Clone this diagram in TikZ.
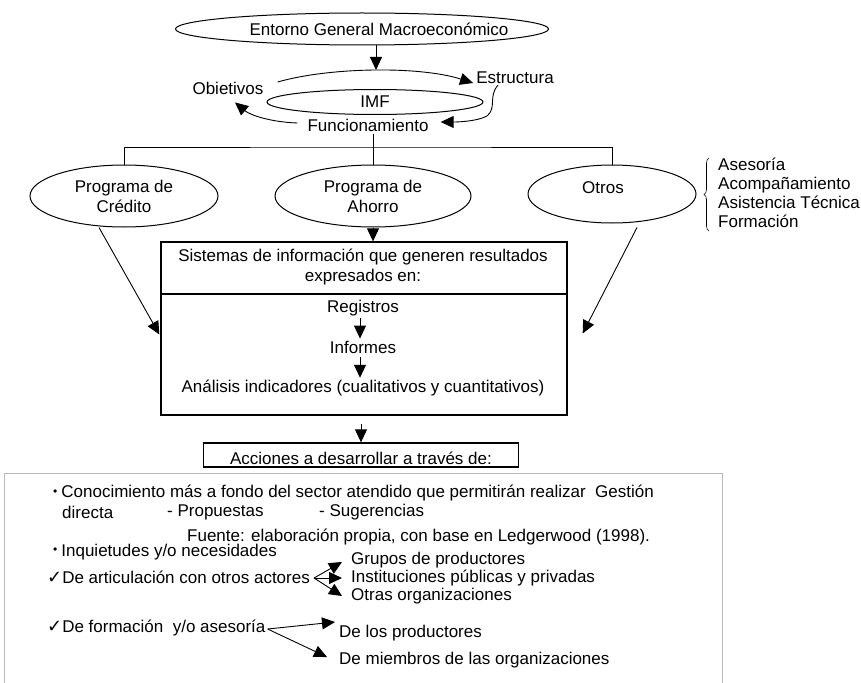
\documentclass[tikz,border=0pt]{standalone}
\usepackage{fontspec}
\setmainfont{Liberation Sans}
\newfontfamily\chkfont{DejaVu Sans}
\usetikzlibrary{shapes.geometric,arrows.meta,calc,decorations.pathreplacing}
\tikzset{
  txt/.style={font=\fontsize{17}{20}\selectfont,inner sep=0pt},
  oval/.style={ellipse,draw,line width=1pt,inner sep=0pt,align=center,font=\fontsize{17}{20}\selectfont},
  arr/.style={-{Triangle[length=13pt,width=12pt]},line width=.9pt},
  boxed/.style={draw,line width=1.3pt,inner sep=0pt}
}
\newcommand{\bul}{\raisebox{2.5pt}{\fontsize{12}{12}\selectfont •}\hspace{4pt}}
\newcommand{\chk}{{\chkfont\fontsize{18}{18}\selectfont ✓}}
\begin{document}
\begin{tikzpicture}[x=1pt,y=-1pt]
\useasboundingbox (0,0) rectangle (861,682);
\node[oval,minimum width=373,minimum height=32,label={[txt,xshift=17pt]center:Entorno General Macroeconómico}] (env) at (362,29) {};
\node[oval,minimum width=216,minimum height=25] (imf) at (375,102) {IMF};
\node[txt] (obj) at (228,88) {Obietivos};
\node[txt] (estr) at (515,78) {Estructura};
\node[txt] (func) at (368,125) {Funcionamiento};
\coordinate (arctop) at (376,70);
\draw[arr] (env.south -| arctop) -- (arctop);
\draw[arr] ($(obj.east)+(14,-6)$) .. controls (330,67) and (420,66) .. ($(estr.west)+(-3,5)$);
\draw[arr] ($(estr.south west)+(22,1)$) .. controls (488,96) and (497,108) .. (487,116) .. controls (478,121) and (460,122) .. ($(func.east)+(12,-3)$);
\draw[arr] ($(func.west)+(-10,-2)$) .. controls (270,122) and (250,115) .. ($(obj.south)+(7,8)$);
\coordinate (hub) at (373,147);
\node[oval,minimum width=188,minimum height=62] (cred) at (124,196) {Programa de\\Crédito};
\node[oval,minimum width=196,minimum height=62] (aho) at (373,196) {Programa de\\Ahorro};
\node[oval,minimum width=168,minimum height=58,label={[txt,xshift=-9pt,yshift=6pt]center:Otros}] (otr) at (612,194) {};
\draw[line width=.9pt] ($(hub |- func.south)+(0,3)$) -- (hub);
\draw[line width=.9pt] (cred.north) |- (hub) -| (otr.north);
\draw[line width=.9pt] (hub) -- (aho.north);
\node[txt,align=left,anchor=west,font=\fontsize{17}{19}\selectfont] (lst) at (718,193) {Asesoría\\Acompañamiento\\Asistencia Técnica\\Formación};
\draw[line width=.6pt,decorate,decoration={brace,amplitude=5pt}] ($(lst.south west)+(-9,3)$) -- ($(lst.north west)+(-9,0)$);
\node[boxed,minimum width=406,minimum height=173] (sis) at (364,328.5) {};
\draw[arr] (aho.south) -- (aho.south |- sis.north);
\draw[line width=2.4pt] (sis.west |- 0,294) -- (sis.east |- 0,294);
\node[txt,align=center] (sist) at (363,267) {Sistemas de información que generen resultados\\expresados en:};
\node[txt] (reg) at (363,308) {Registros};
\node[txt] (inf) at (363,347) {Informes};
\node[txt] (ana) at (363,388) {Análisis indicadores (cualitativos y cuantitativos)};
\draw[arr] ($(reg.south)+(-3,2)$) -- ($(inf.north)+(-3,-2)$);
\draw[arr] ($(inf.south)+(-3,4)$) -- ($(ana.north)+(-3,-2)$);
\draw[arr] ($(cred.south)+(-25,0)$) -- ($(sis.west)+(-1,6)$);
\draw[arr] ($(otr.south)+(25,4)$) -- ($(sis.east)+(15,5)$);
\node[boxed,minimum width=315,minimum height=24,label={[txt,yshift=-3pt]center:Acciones a desarrollar a través de:}] (acc) at (361,455) {};
\draw[arr] ($(acc.north |- sis.south)+(0,8)$) -- (acc.north);
\draw[gray!55,line width=1pt] (4,700) |- (722,473) -- (722,700);
\node[txt,anchor=west] (con) at (53,493) {\bul Conocimiento más a fondo del sector atendido que permitirán realizar\ \ Gestión};
\node[txt,anchor=west] (dir) at (62,512) {directa};
\node[txt,anchor=west] (prop) at (167,512) {- Propuestas};
\node[txt,anchor=west] (sug) at (319,512) {- Sugerencias};
\node[txt,anchor=west] (src) at (187,537) {Fuente: elaboración propia, con base en Ledgerwood (1998).};
\node[txt,anchor=west] (inq) at (53,552) {\bul Inquietudes y/o necesidades};
\node[txt,anchor=west] (art) at (47,577) {\chk De articulación con otros actores};
\node[txt,anchor=west] (grp) at (351,560) {Grupos de productores};
\node[txt,anchor=west] (ins) at (351,578) {Instituciones públicas y privadas};
\node[txt,anchor=west] (otro) at (351,596) {Otras organizaciones};
\coordinate (fk) at ($(art.east)+(4,1)$);
\draw[arr] (fk) -- ($(grp.west)+(-9,2)$);
\draw[arr] (fk) -- ($(ins.west)+(-9,0)$);
\draw[arr] (fk) -- ($(otro.west)+(-9,0)$);
\node[txt,anchor=west] (form) at (47,628) {\chk De formación\ \ y/o asesoría};
\node[txt,anchor=west] (delos) at (339,633) {De los productores};
\node[txt,anchor=west] (demi) at (339,660) {De miembros de las organizaciones};
\draw[arr] ($(form.east)+(2,1)$) -- ($(delos.west)+(-4,-11)$);
\draw[arr] ($(form.east)+(2,1)$) -- ($(demi.west)+(-12,-3)$);
\end{tikzpicture}
\end{document}
